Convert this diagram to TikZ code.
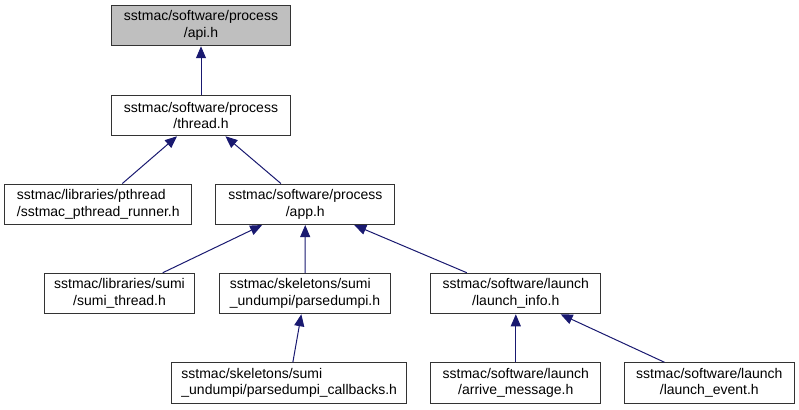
\documentclass[tikz,border=0pt]{standalone}
\usepackage{fontspec}
\setmainfont{Liberation Sans}
\usetikzlibrary{arrows.meta}
\definecolor{edgeblue}{HTML}{191970}
\definecolor{rootgray}{HTML}{BFBFBF}
\begin{document}
\begin{tikzpicture}[x=1pt,y=-1pt,
  filebox/.style={draw=black!80,line width=1pt,inner sep=0pt,minimum height=40.5pt,
    font=\fontsize{14}{16.5}\selectfont,align=center},
  dep/.style={-{Triangle[length=12pt,width=10pt]},draw=edgeblue,line width=1pt}]
  \useasboundingbox (0,0) rectangle (799,409);

  % top of the graph
  \node[filebox,fill=rootgray,minimum width=179pt] (api) at (201,25.5) {sstmac/software/process\\/api.h};
  \node[filebox,minimum width=179pt] (thread) at (201,115.5) {sstmac/software/process\\/thread.h};

  \node[filebox,align=left,minimum width=187pt] (pthread) at (98.3,204.3) {sstmac/libraries/pthread\\/sstmac\_pthread\_runner.h};
  \node[filebox,minimum width=179pt] (app) at (305.3,204.3) {sstmac/software/process\\/app.h};

  % users of app.h
  \node[filebox,minimum width=150.5pt] (sumithread) at (119.5,293.5) {sstmac/libraries/sumi\\/sumi\_thread.h};
  \node[filebox,align=left,minimum width=170.5pt] (parsedumpi) at (305,293.5) {sstmac/skeletons/sumi\\\_undumpi/parsedumpi.h};
  \node[filebox,minimum width=170pt] (launchinfo) at (515.8,293.5) {sstmac/software/launch\\/launch\_info.h};

  \node[filebox,align=left,minimum width=235pt] (callbacks) at (289.2,383) {sstmac/skeletons/sumi\\\_undumpi/parsedumpi\_callbacks.h};
  \node[filebox,minimum width=170pt] (arrive) at (515.8,383) {sstmac/software/launch\\/arrive\_message.h};
  \node[filebox,minimum width=170pt] (launchevent) at (709.3,383) {sstmac/software/launch\\/launch\_event.h};

  \draw[dep] (thread) -- (api);
  \draw[dep] (pthread) -- (thread);
  \draw[dep] (app) -- (thread);
  \draw[dep] (sumithread) -- (app);
  \draw[dep] (parsedumpi) -- (app);
  \draw[dep] (launchinfo) -- (app);
  \draw[dep] (callbacks) -- (parsedumpi);
  \draw[dep] (arrive) -- (launchinfo);
  \draw[dep] (launchevent) -- (launchinfo);

\end{tikzpicture}
\end{document}
